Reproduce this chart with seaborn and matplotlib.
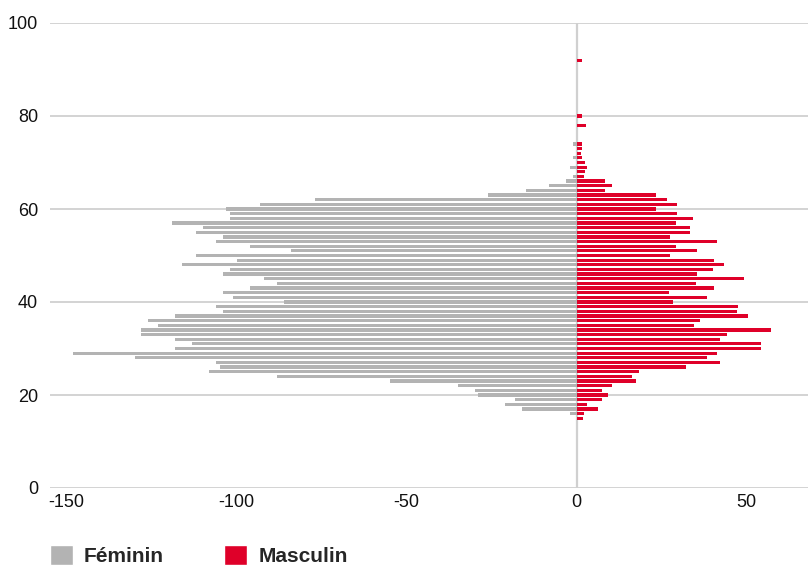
import pandas as pd
import matplotlib
matplotlib.use("Agg")
import matplotlib.pyplot as plt
from matplotlib.patches import Patch
import seaborn as sns

# values
ages = list(range(15, 75)) + [78, 80, 92]

feminin = [0, 1.8, 16, 21, 18, 29, 30, 35, 55, 88,
           108, 105, 106, 130, 148, 118, 113, 118, 128, 128,
           123, 126, 118, 104, 106, 86, 101, 104, 96, 88,
           92, 104, 102, 116, 100, 112, 84, 96, 106, 104,
           112, 110, 119, 102, 102, 103, 93, 77, 26, 15,
           8, 3.1, 1.0, 0, 1.9, 0, 1.0, 0, 0, 1.0,
           0, 0, 0]

masculin = [1.8, 2.1, 6.2, 3.2, 7.4, 9.4, 7.4, 10.3, 17.4, 16.2,
            18.3, 32.2, 42.2, 38.3, 41.3, 54.3, 54.3, 42.2, 44.2, 57.2,
            34.5, 36.3, 50.4, 47.2, 47.5, 28.3, 38.3, 27.1, 40.4, 35.1,
            49.3, 35.4, 40.1, 43.4, 40.4, 27.4, 35.4, 29.2, 41.3, 27.4,
            33.3, 33.3, 29.2, 34.2, 29.5, 23.3, 29.5, 26.5, 23.3, 8.3,
            10.3, 8.3, 2.1, 2.4, 2.95, 2.4, 1.5, 1.2, 1.5, 1.5,
            2.65, 1.5, 1.5]

x_ticks = [-150, -100, -50, 0, 50]
y_ticks = [0, 20, 40, 60, 80, 100]

GRAY = "#b3b3b3"
RED = "#df0029"

n = len(ages)
df = pd.DataFrame({
    "age": ages * 2,
    "value": [-v for v in feminin] + masculin,
    "sexe": ["Féminin"] * n + ["Masculin"] * n,
})

sns.set_theme(style="white")
plt.rcParams["font.family"] = ["Liberation Sans", "DejaVu Sans"]
plt.rcParams["axes.unicode_minus"] = False

fig = plt.figure(figsize=(8.08, 5.68), dpi=100)
ax = fig.add_axes([50 / 808, 1 - 488 / 568, 1 - 50 / 808, (488 - 23) / 568])

for y in y_ticks:
    ax.axhline(y, color="#cccccc", lw=1.2, zorder=0)
ax.axvline(0, color="#d0d0d0", lw=1.6, zorder=0.5)

sns.barplot(data=df, x="value", y="age", hue="sexe", orient="y",
            native_scale=True, dodge=False, errorbar=None, width=0.7,
            palette={"Féminin": GRAY, "Masculin": RED}, saturation=1,
            linewidth=0, legend=False, ax=ax)

ax.set_xlim(-154.9, 68.1)
ax.set_ylim(0, 100)
ax.set_xticks(x_ticks)
ax.set_xticklabels([str(t) for t in x_ticks])
ax.set_yticks(y_ticks)
ax.set_yticklabels([str(t) for t in y_ticks])
ax.tick_params(axis="x", length=0, pad=4, labelsize=13, colors="#111111")
ax.tick_params(axis="y", length=0, pad=8.5, labelsize=13, colors="#111111")
ax.set_xlabel("")
ax.set_ylabel("")
ax.grid(False)
for s in ax.spines.values():
    s.set_visible(False)

handles = [Patch(facecolor=GRAY), Patch(facecolor=RED)]
fig.legend(handles, ["Féminin", "Masculin"], loc="lower left",
           bbox_to_anchor=(50 / 808, 2 / 568), ncol=2, frameon=False,
           handlelength=1.1, handleheight=1.1, handletextpad=0.53,
           columnspacing=2.9, borderpad=0, borderaxespad=0,
           prop={"weight": "bold", "size": 15})

fig.savefig("out.png", dpi=100)
